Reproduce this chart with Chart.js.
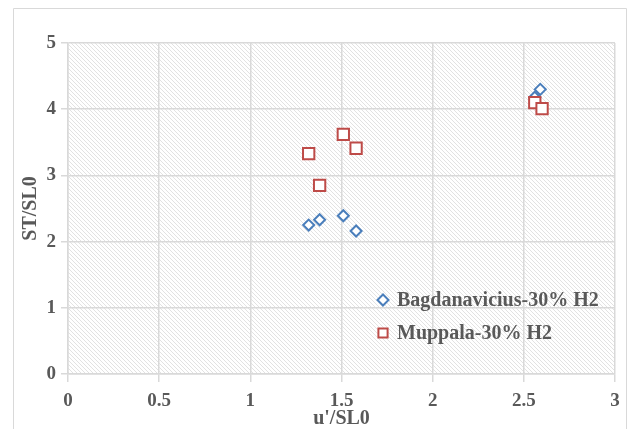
<!DOCTYPE html>
<html>
<head>
<meta charset="utf-8">
<script src="https://cdn.jsdelivr.net/npm/chart.js@4.4.0/dist/chart.umd.min.js"></script>
<style>
  html, body { margin: 0; padding: 0; background: #fff; }
  #wrap { width: 630px; height: 429px; }
</style>
</head>
<body>
<div id="wrap"><canvas id="scatterChart" width="630" height="429"></canvas></div>
<script>
// data
let xTicks = [0, 0.5, 1, 1.5, 2, 2.5, 3];
let yTicks = [0, 1, 2, 3, 4, 5];

let bagX = [1.32, 1.38, 1.51, 1.58, 2.56, 2.59];
let bagY = [2.25, 2.33, 2.39, 2.16, 4.18, 4.30];

let mupX = [1.32, 1.38, 1.51, 1.58, 2.56, 2.60];
let mupY = [3.33, 2.85, 3.62, 3.41, 4.10, 4.01];

const textGray = '#595959';
const gridGray = '#d9d9d9';
const serifBold = { family: '"Liberation Serif", "Times New Roman", serif', weight: 'bold', size: 19 };

function toPoints(xs, ys) {
  return xs.map((x, i) => ({ x: x, y: ys[i] }));
}

// hatched background pattern
function makeHatch() {
  const c = document.createElement('canvas');
  c.width = 4; c.height = 4;
  const g = c.getContext('2d');
  g.fillStyle = '#ffffff';
  g.fillRect(0, 0, 4, 4);
  g.strokeStyle = '#e2e2e2';
  g.lineWidth = 1;
  g.beginPath();
  g.moveTo(-1, -1); g.lineTo(5, 5);
  g.moveTo(-1, 3); g.lineTo(1, 5);
  g.moveTo(3, -1); g.lineTo(5, 1);
  g.stroke();
  return g.createPattern(c, 'repeat');
}

const backgroundPlugin = {
  id: 'hatchBackground',
  beforeDraw(chart) {
    const { ctx, chartArea } = chart;
    ctx.save();
    // outer frame
    ctx.strokeStyle = gridGray;
    ctx.lineWidth = 1;
    ctx.beginPath();
    ctx.moveTo(13.5, 430);
    ctx.lineTo(13.5, 8.5);
    ctx.lineTo(626.5, 8.5);
    ctx.lineTo(626.5, 430);
    ctx.stroke();
    // hatch inside plot
    ctx.fillStyle = makeHatch();
    ctx.fillRect(chartArea.left, chartArea.top, chartArea.right - chartArea.left, chartArea.bottom - chartArea.top);
    ctx.restore();
  }
};

// legend drawn inside the plot
const insideLegend = {
  id: 'insideLegend',
  afterDraw(chart) {
    const { ctx } = chart;
    const items = [
      { ds: chart.data.datasets[0], y: 300 },
      { ds: chart.data.datasets[1], y: 333 }
    ];
    ctx.save();
    items.forEach(it => {
      ctx.strokeStyle = it.ds.borderColor;
      ctx.fillStyle = '#ffffff';
      ctx.lineWidth = 2;
      Chart.helpers.drawPoint(ctx, {
        pointStyle: it.ds.pointStyle,
        radius: it.ds.pointStyle === 'rect' ? 6.5 : 5.5,
        rotation: 0,
        borderWidth: 2
      }, 383, it.y);
      ctx.fillStyle = textGray;
      ctx.font = 'bold 20px "Liberation Serif", "Times New Roman", serif';
      ctx.textBaseline = 'middle';
      ctx.fillText(it.ds.label, 397, it.y + 1);
    });
    ctx.restore();
  }
};

const scatterData = {
  datasets: [{
    label: 'Bagdanavicius-30% H2',
    data: toPoints(bagX, bagY),
    pointStyle: 'rectRot',
    pointRadius: 5.5,
    pointHoverRadius: 5.5,
    borderColor: '#4a7ebb',
    backgroundColor: '#ffffff',
    borderWidth: 2,
    order: 2
  },
  {
    label: 'Muppala-30% H2',
    data: toPoints(mupX, mupY),
    pointStyle: 'rect',
    pointRadius: 8,
    pointHoverRadius: 8,
    borderColor: '#be4b48',
    backgroundColor: '#ffffff',
    borderWidth: 2,
    order: 1
  }]
};

const scatterConfig = {
  type: 'scatter',
  data: scatterData,
  options: {
    responsive: false,
    animation: false,
    layout: { padding: { left: 0, top: 43, right: 15, bottom: 0 } },
    plugins: {
      legend: { display: false },
      tooltip: { enabled: false }
    },
    scales: {
      x: {
        min: 0, max: 3,
        afterBuildTicks(scale) { scale.ticks = xTicks.map(v => ({ value: v })); },
        afterFit(scale) { scale.height = 55; },
        ticks: { color: textGray, font: serifBold, padding: 8, callback: v => String(v) },
        grid: { color: gridGray, lineWidth: 1.5, tickLength: 8 },
        border: { color: gridGray, width: 1.5 },
        title: { display: true, text: "u'/SL0", color: textGray, font: { ...serifBold, size: 20 }, padding: { top: 0, bottom: -2 } }
      },
      y: {
        min: 0, max: 5,
        afterBuildTicks(scale) { scale.ticks = yTicks.map(v => ({ value: v })); },
        afterFit(scale) { scale.width = 68; },
        ticks: { color: textGray, font: serifBold, padding: 5, callback: v => String(v) },
        grid: { color: gridGray, lineWidth: 1.5, tickLength: 7 },
        border: { color: gridGray, width: 1.5 },
        title: { display: true, text: 'ST/SL0', color: textGray, font: { ...serifBold, size: 20 }, padding: { top: 19, bottom: 0 } }
      }
    }
  },
  plugins: [backgroundPlugin, insideLegend]
};

let scatterChart = new Chart(
  document.getElementById('scatterChart'),
  scatterConfig
);
</script>
</body>
</html>
